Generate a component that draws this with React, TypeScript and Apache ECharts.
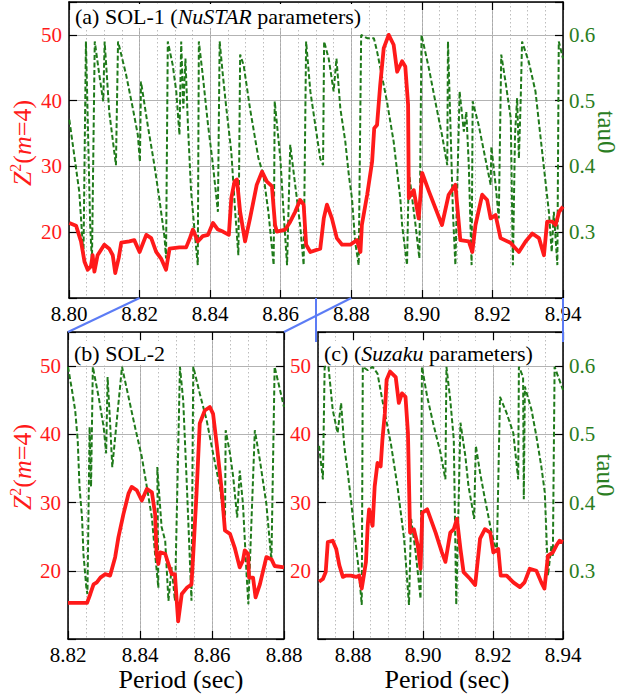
import React, { useEffect, useRef } from 'react';
import * as echarts from 'echarts';

const RED = '#ff1a1a';
const GREEN = '#1f7a1a';
const GREEN_TEXT = '#2a7d22';
const BLUE = '#5c7cf5';
const SERIF = 'Liberation Serif';

// (a) SOL-1, NuSTAR parameters: [period (s), Z^2(m=4)]
const solA_z2: number[][] = [
  [8.8001, 21.4], [8.802, 21.0], [8.8034, 18.6], [8.8044, 15.5], [8.8053, 14.3], [8.8062, 14.8],
  [8.8067, 16.5], [8.8072, 14.0], [8.8081, 16.5], [8.81, 18.1], [8.8114, 17.5], [8.8124, 16.5],
  [8.8131, 13.8], [8.8141, 16.1], [8.8148, 18.4], [8.8171, 18.6], [8.8185, 18.8], [8.82, 17.0],
  [8.8219, 19.6], [8.8233, 19.1], [8.8247, 17.0], [8.8261, 16.0], [8.8275, 14.3], [8.8285, 17.5],
  [8.8313, 17.7], [8.8332, 17.7], [8.8342, 19.0], [8.8351, 20.4], [8.8365, 18.6], [8.8379, 19.4],
  [8.8394, 19.6], [8.8408, 21.4], [8.8422, 20.4], [8.8436, 20.1], [8.8453, 19.6], [8.846, 25.2],
  [8.8469, 27.7], [8.8476, 28.0], [8.8485, 23.1], [8.8499, 18.6], [8.8513, 22.1], [8.8532, 27.2],
  [8.8547, 29.2], [8.8561, 27.7], [8.8575, 27.0], [8.8584, 21.1], [8.8589, 20.1], [8.8613, 20.4],
  [8.8627, 21.6], [8.8641, 23.1], [8.8655, 24.9], [8.8665, 24.2], [8.8672, 18.1], [8.8684, 17.0],
  [8.8712, 17.5], [8.8722, 22.1], [8.8731, 24.2], [8.8745, 22.1], [8.8759, 19.1], [8.8774, 18.1],
  [8.8797, 18.1], [8.8816, 18.8], [8.8826, 17.0], [8.883, 21.1], [8.8845, 25.7], [8.8859, 30.7],
  [8.8865, 35.8], [8.8873, 36.3], [8.8882, 42.4], [8.8892, 48.0], [8.8906, 50.0], [8.892, 48.5],
  [8.893, 44.4], [8.8944, 46.0], [8.8953, 45.2], [8.8961, 39.4], [8.8963, 25.2], [8.8977, 26.4],
  [8.8991, 22.1], [8.9001, 29.0], [8.902, 26.2], [8.9057, 21.1], [8.9076, 25.7], [8.9095, 27.2],
  [8.9109, 18.8], [8.9133, 18.6], [8.9143, 17.0], [8.9152, 21.1], [8.9171, 25.7], [8.9185, 24.9],
  [8.9195, 22.1], [8.9209, 22.6], [8.9223, 19.1], [8.9251, 18.4], [8.9275, 17.0], [8.9294, 18.6],
  [8.9313, 19.8], [8.9332, 19.1], [8.9346, 16.5], [8.9355, 21.6], [8.937, 21.6], [8.9379, 21.1],
  [8.9389, 23.1], [8.94, 23.9],
];

// (a) SOL-1: [period (s), tau0]
const solA_tau: number[][] = [
  [8.8001, 0.471], [8.8029, 0.362], [8.8041, 0.265], [8.8048, 0.59], [8.806, 0.311], [8.8065, 0.255],
  [8.8073, 0.59], [8.8086, 0.539], [8.8097, 0.499], [8.8101, 0.59], [8.8114, 0.483], [8.8133, 0.402],
  [8.8139, 0.59], [8.8162, 0.539], [8.8181, 0.488], [8.8195, 0.448], [8.8201, 0.407], [8.8204, 0.529],
  [8.8223, 0.463], [8.8242, 0.402], [8.8256, 0.351], [8.8271, 0.291], [8.8275, 0.26], [8.828, 0.59],
  [8.8294, 0.554], [8.8304, 0.514], [8.8313, 0.448], [8.8318, 0.59], [8.8324, 0.488], [8.833, 0.564],
  [8.8337, 0.463], [8.8346, 0.362], [8.8356, 0.301], [8.8365, 0.25], [8.8368, 0.59], [8.8379, 0.539],
  [8.8394, 0.463], [8.8408, 0.402], [8.8422, 0.331], [8.8427, 0.59], [8.8436, 0.539], [8.8446, 0.488],
  [8.846, 0.422], [8.8471, 0.331], [8.848, 0.265], [8.8485, 0.57], [8.8495, 0.554], [8.8513, 0.488],
  [8.8537, 0.412], [8.8551, 0.387], [8.8565, 0.331], [8.858, 0.25], [8.8583, 0.499], [8.8599, 0.412],
  [8.8608, 0.331], [8.8618, 0.25], [8.8627, 0.433], [8.8641, 0.372], [8.8655, 0.311], [8.8665, 0.25],
  [8.8672, 0.59], [8.8684, 0.514], [8.8698, 0.463], [8.8712, 0.412], [8.872, 0.402], [8.8723, 0.59],
  [8.8736, 0.564], [8.875, 0.514], [8.8758, 0.564], [8.8769, 0.488], [8.8783, 0.438], [8.8793, 0.387],
  [8.8802, 0.351], [8.8811, 0.285], [8.8821, 0.25], [8.8828, 0.6], [8.8845, 0.595], [8.8864, 0.595],
  [8.8873, 0.575], [8.8901, 0.499], [8.892, 0.438], [8.8939, 0.351], [8.8944, 0.311], [8.8958, 0.25],
  [8.8963, 0.392], [8.8982, 0.311], [8.8993, 0.26], [8.8999, 0.6], [8.902, 0.549], [8.9038, 0.499],
  [8.9057, 0.448], [8.9072, 0.402], [8.9074, 0.59], [8.9081, 0.463], [8.9088, 0.331], [8.9095, 0.25],
  [8.9107, 0.514], [8.9119, 0.453], [8.9126, 0.483], [8.9133, 0.402], [8.9141, 0.25], [8.9144, 0.499],
  [8.9161, 0.463], [8.918, 0.412], [8.9195, 0.372], [8.9197, 0.43], [8.9209, 0.372], [8.9218, 0.321],
  [8.9225, 0.57], [8.9237, 0.529], [8.9252, 0.473], [8.9258, 0.25], [8.9264, 0.448], [8.927, 0.504],
  [8.9275, 0.412], [8.928, 0.499], [8.9284, 0.59], [8.9303, 0.559], [8.9322, 0.514], [8.9341, 0.422],
  [8.936, 0.331], [8.9368, 0.27], [8.9374, 0.331], [8.9384, 0.25], [8.9388, 0.59], [8.94, 0.564],
];

// (b) SOL-2: [period (s), Z^2(m=4)]
const solB_z2: number[][] = [
  [8.82, 15.3], [8.8225, 15.3], [8.8253, 15.3], [8.8262, 16.6], [8.8271, 18.0], [8.828, 18.3],
  [8.829, 19.0], [8.8303, 19.5], [8.8317, 19.3], [8.8331, 22.0], [8.834, 24.9], [8.8354, 28.3],
  [8.8368, 31.3], [8.8377, 32.3], [8.8391, 31.8], [8.8405, 30.3], [8.8419, 32.0], [8.8433, 31.5],
  [8.8442, 28.3], [8.8446, 22.5], [8.8451, 21.0], [8.8456, 22.7], [8.847, 22.5], [8.8479, 21.0],
  [8.8488, 19.5], [8.8497, 19.5], [8.8502, 15.6], [8.8506, 12.6], [8.8516, 16.6], [8.853, 17.5],
  [8.8543, 18.0], [8.8548, 22.5], [8.8557, 31.3], [8.8566, 41.6], [8.858, 43.5], [8.8594, 44.0],
  [8.8603, 43.0], [8.8613, 38.6], [8.8626, 32.3], [8.8636, 25.9], [8.865, 25.4], [8.8663, 23.4],
  [8.8677, 20.5], [8.8686, 21.5], [8.8691, 23.0], [8.87, 22.5], [8.8703, 19.0], [8.8714, 19.0],
  [8.8721, 16.1], [8.8733, 18.0], [8.8751, 22.0], [8.8765, 21.7], [8.8774, 20.7], [8.88, 20.5],
];

// (b) SOL-2: [period (s), tau0]
const solB_tau: number[][] = [
  [8.82, 0.599], [8.8211, 0.565], [8.822, 0.535], [8.8227, 0.491], [8.8232, 0.423], [8.8239, 0.378],
  [8.8243, 0.324], [8.8251, 0.275], [8.8254, 0.266], [8.826, 0.511], [8.8264, 0.423], [8.8269, 0.599],
  [8.8285, 0.555], [8.8299, 0.511], [8.8306, 0.472], [8.831, 0.584], [8.8317, 0.516], [8.8323, 0.452],
  [8.835, 0.599], [8.8368, 0.555], [8.8386, 0.511], [8.8405, 0.467], [8.8419, 0.423], [8.8433, 0.378],
  [8.8442, 0.324], [8.8451, 0.275], [8.8448, 0.452], [8.846, 0.364], [8.847, 0.344], [8.8479, 0.256],
  [8.8488, 0.305], [8.8497, 0.256], [8.8511, 0.599], [8.852, 0.55], [8.853, 0.427], [8.8543, 0.256],
  [8.8548, 0.599], [8.8566, 0.56], [8.8585, 0.521], [8.8603, 0.472], [8.8622, 0.423], [8.8636, 0.364],
  [8.8638, 0.506], [8.865, 0.472], [8.8659, 0.437], [8.867, 0.378], [8.8677, 0.447], [8.8686, 0.398],
  [8.8696, 0.295], [8.8701, 0.251], [8.8719, 0.506], [8.8733, 0.462], [8.8751, 0.398], [8.8765, 0.315],
  [8.8774, 0.599], [8.88, 0.54],
];

// (c) Suzaku parameters: [period (s), Z^2(m=4)]
const solC_z2: number[][] = [
  [8.8703, 18.4], [8.8714, 18.8], [8.8722, 19.8], [8.8728, 24.2], [8.8742, 24.4], [8.8752, 23.2],
  [8.8761, 20.8], [8.8771, 19.1], [8.878, 19.3], [8.8794, 19.3], [8.8809, 19.1], [8.8818, 19.3],
  [8.8825, 17.4], [8.8831, 19.3], [8.8837, 21.3], [8.8842, 26.6], [8.8846, 29.0], [8.8856, 26.6],
  [8.8862, 32.4], [8.887, 35.8], [8.8879, 35.3], [8.8884, 39.2], [8.8891, 43.1], [8.8896, 48.0],
  [8.8906, 49.2], [8.8922, 48.4], [8.8931, 44.6], [8.894, 46.0], [8.895, 45.5], [8.8957, 40.2],
  [8.8963, 25.6], [8.8974, 26.1], [8.8985, 23.7], [8.8993, 20.3], [8.8998, 28.5], [8.9012, 29.0],
  [8.9036, 25.6], [8.9054, 22.7], [8.9064, 21.3], [8.9078, 25.6], [8.9088, 26.1], [8.9097, 27.6],
  [8.9107, 23.2], [8.9116, 19.8], [8.9135, 18.8], [8.9149, 17.9], [8.9163, 24.7], [8.9177, 26.1],
  [8.9192, 25.6], [8.9201, 22.7], [8.9215, 23.2], [8.9222, 19.3], [8.9239, 19.3], [8.9258, 18.3],
  [8.9277, 17.6], [8.929, 18.3], [8.9305, 20.3], [8.9324, 20.0], [8.9338, 18.3], [8.9347, 17.4],
  [8.9357, 22.2], [8.9371, 22.7], [8.9381, 23.7], [8.939, 24.4], [8.94, 24.2],
];

// (c) Suzaku parameters: [period (s), tau0]
const solC_tau: number[][] = [
  [8.8703, 0.483], [8.8714, 0.434], [8.8719, 0.599], [8.873, 0.599], [8.8742, 0.536], [8.8756, 0.502],
  [8.8766, 0.546], [8.8775, 0.483], [8.8785, 0.444], [8.8794, 0.405], [8.8804, 0.356], [8.8815, 0.308],
  [8.8825, 0.25], [8.8828, 0.599], [8.8842, 0.594], [8.8856, 0.599], [8.887, 0.589], [8.8889, 0.536],
  [8.8908, 0.487], [8.8927, 0.424], [8.8946, 0.347], [8.896, 0.25], [8.8966, 0.376], [8.8979, 0.327],
  [8.8993, 0.259], [8.8997, 0.599], [8.9012, 0.555], [8.9031, 0.512], [8.905, 0.473], [8.9064, 0.434],
  [8.9067, 0.599], [8.9078, 0.55], [8.9088, 0.492], [8.9095, 0.25], [8.9107, 0.517], [8.9121, 0.468],
  [8.913, 0.424], [8.914, 0.395], [8.9146, 0.376], [8.9151, 0.483], [8.9163, 0.444], [8.9177, 0.405],
  [8.9196, 0.356], [8.9211, 0.327], [8.922, 0.555], [8.9239, 0.531], [8.9258, 0.502], [8.9272, 0.434],
  [8.9274, 0.599], [8.9286, 0.584], [8.9288, 0.405], [8.9291, 0.57], [8.931, 0.536], [8.9324, 0.497],
  [8.9338, 0.453], [8.9348, 0.415], [8.9357, 0.293], [8.9367, 0.337], [8.9371, 0.322], [8.9376, 0.599],
  [8.94, 0.565],
];

const periodTicksA = [8.8, 8.82, 8.84, 8.86, 8.88, 8.9, 8.92, 8.94];
const periodTicksB = [8.82, 8.84, 8.86, 8.88];
const periodTicksC = [8.88, 8.9, 8.92, 8.94];

type Panel = {
  box: { left: number; top: number; width: number; height: number };
  min: number;
  max: number;
  ticks: number[];
  z2: number[][];
  tau: number[][];
  tauLabels: boolean;
};

const panels: Panel[] = [
  { box: { left: 69, top: 2, width: 494, height: 296 }, min: 8.8, max: 8.94, ticks: periodTicksA, z2: solA_z2, tau: solA_tau, tauLabels: true },
  { box: { left: 68, top: 332, width: 216, height: 307 }, min: 8.82, max: 8.88, ticks: periodTicksB, z2: solB_z2, tau: solB_tau, tauLabels: false },
  { box: { left: 318, top: 332, width: 245, height: 307 }, min: 8.87, max: 8.94, ticks: periodTicksC, z2: solC_z2, tau: solC_tau, tauLabels: true },
];

const frameLine = { show: true, onZero: false, lineStyle: { color: '#000', width: 1.5 } };
const tickStyle = { color: '#000', width: 1.2 };
const X_PER_PANEL = 3;

function buildOption() {
  const grid: any[] = [];
  const xAxis: any[] = [];
  const yAxis: any[] = [];
  const series: any[] = [];
  panels.forEach((p, k) => {
    grid.push({ ...p.box, show: false });
    // period axis: labels, major ticks and solid grid lines
    xAxis.push({
      type: 'value', gridIndex: k, min: p.min, max: p.max, position: 'bottom',
      axisLine: frameLine,
      axisTick: { show: true, inside: true, length: 8, customValues: p.ticks, lineStyle: tickStyle },
      axisLabel: {
        show: true, customValues: p.ticks, formatter: (v: number) => v.toFixed(2),
        color: '#000', fontSize: 21, fontFamily: SERIF, margin: 5,
      },
      splitLine: { show: true, lineStyle: { color: '#a9a9a9', width: 1 } },
    });
    // top frame with the same major ticks
    xAxis.push({
      type: 'value', gridIndex: k, min: p.min, max: p.max, position: 'top',
      axisLine: frameLine,
      axisTick: { show: true, inside: true, length: 8, customValues: p.ticks, lineStyle: tickStyle },
      axisLabel: { show: false },
      splitLine: { show: false },
    });
    // dotted grid every 0.005 s
    xAxis.push({
      type: 'value', gridIndex: k, min: p.min, max: p.max, interval: 0.005, position: 'top',
      axisLine: { show: false },
      axisTick: { show: false },
      axisLabel: { show: false },
      splitLine: { show: true, lineStyle: { color: '#bdbdbd', width: 1, type: [1.5, 2.5] } },
    });
    yAxis.push({
      type: 'value', gridIndex: k, min: 10, max: 55, interval: 10, position: 'left',
      axisLine: frameLine,
      axisTick: { show: true, inside: true, length: 8, lineStyle: tickStyle },
      axisLabel: {
        color: RED, fontSize: 21, fontFamily: SERIF, margin: 7,
        formatter: (v: number) => (v > 15 && v < 52 ? String(Math.round(v)) : ''),
      },
      splitLine: { show: true, lineStyle: { color: '#b3b3b3', width: 1 } },
    });
    yAxis.push({
      type: 'value', gridIndex: k, min: 0.2, max: 0.65, interval: 0.1, position: 'right',
      axisLine: frameLine,
      axisTick: { show: true, inside: true, length: 8, lineStyle: tickStyle },
      axisLabel: {
        show: p.tauLabels, color: GREEN_TEXT, fontSize: 21, fontFamily: SERIF, margin: 6,
        formatter: (v: number) => (v > 0.25 && v < 0.62 ? v.toFixed(1) : ''),
      },
      splitLine: { show: false },
    });
    series.push({
      type: 'line', xAxisIndex: X_PER_PANEL * k, yAxisIndex: 2 * k + 1, data: p.tau,
      symbol: 'none', clip: true, z: 2,
      lineStyle: { color: GREEN, width: 2, type: [5, 2.5] },
    });
    series.push({
      type: 'line', xAxisIndex: X_PER_PANEL * k, yAxisIndex: 2 * k, data: p.z2,
      symbol: 'none', clip: true, z: 3,
      lineStyle: { color: RED, width: 3.8, join: 'round' },
    });
  });
  return { animation: false, backgroundColor: '#fff', grid, xAxis, yAxis, series };
}

function z2Title(x: number, y: number) {
  return {
    type: 'text', x, y, rotation: Math.PI / 2, z: 20,
    style: {
      text: '{i|Z}{s|2}{n|(}{i|m}{n|=4)}',
      align: 'center', verticalAlign: 'middle',
      rich: {
        i: { fontStyle: 'italic', fontSize: 26, fontFamily: SERIF, fill: RED, lineHeight: 30 },
        n: { fontSize: 26, fontFamily: SERIF, fill: RED, lineHeight: 30 },
        s: { fontSize: 16, fontFamily: SERIF, fill: RED, verticalAlign: 'top', lineHeight: 16 },
      },
    },
  };
}

function tauTitle(x: number, y: number) {
  return {
    type: 'text', x, y, rotation: -Math.PI / 2, z: 20,
    style: { text: 'tau0', fill: GREEN_TEXT, fontSize: 25, fontFamily: SERIF, align: 'center', verticalAlign: 'middle' },
  };
}

function panelLabel(x: number, y: number, text: string) {
  return {
    type: 'text', x, y, z: 20,
    style: {
      text, align: 'left', verticalAlign: 'middle', backgroundColor: '#fff', padding: [1, 3, 1, 3],
      rich: {
        n: { fontSize: 22, fontFamily: SERIF, fill: '#000' },
        i: { fontSize: 22, fontFamily: SERIF, fill: '#000', fontStyle: 'italic' },
      },
    },
  };
}

function axisTitle(x: number, y: number) {
  return {
    type: 'text', x, y, z: 20,
    style: { text: 'Period (sec)', fill: '#000', fontSize: 26, fontFamily: SERIF, align: 'center', verticalAlign: 'middle' },
  };
}

export default function App() {
  const ref = useRef<HTMLDivElement>(null);
  useEffect(() => {
    if (!ref.current) return;
    const chart = echarts.init(ref.current, null, { renderer: 'svg' });
    chart.setOption(buildOption());

    // zoom connectors between the SOL-1 period axis and the lower panels
    const px = (axis: number, v: number) => chart.convertToPixel({ xAxisIndex: axis }, v) as number;
    const py = (axis: number, v: number) => chart.convertToPixel({ yAxisIndex: axis }, v) as number;
    const aBottom = py(0, 10);
    const lowTop = py(2, 55);
    const xa = 0;
    const xb = X_PER_PANEL;
    const connector = (x1: number, y1: number, x2: number, y2: number) => ({
      type: 'line', z: 30, silent: true,
      shape: { x1, y1, x2, y2 },
      style: { stroke: BLUE, lineWidth: 2 },
    });

    chart.setOption({
      graphic: [
        connector(px(xa, 8.82), aBottom, px(xb, 8.82), lowTop),
        connector(px(xa, 8.88), aBottom, px(xb, 8.88), lowTop),
        connector(px(xa, 8.87), aBottom, px(xa, 8.87), lowTop + 10),
        connector(px(xa, 8.94), aBottom, px(xa, 8.94), lowTop + 10),
        panelLabel(72, 16, '{n|(a) SOL-1 (}{i|NuSTAR}{n| parameters)}'),
        panelLabel(71, 353, '{n|(b) SOL-2}'),
        panelLabel(321, 353, '{n|(c) (}{i|Suzaku}{n| parameters)}'),
        z2Title(22, 143),
        z2Title(22, 467),
        tauTitle(606, 132),
        tauTitle(605, 475),
        axisTitle(181, 679),
        axisTitle(447, 679),
      ],
    });

    return () => chart.dispose();
  }, []);
  return (
    <div
      ref={ref}
      style={{ position: 'absolute', left: 0, top: 0, width: 621, height: 698, background: '#fff' }}
    />
  );
}
